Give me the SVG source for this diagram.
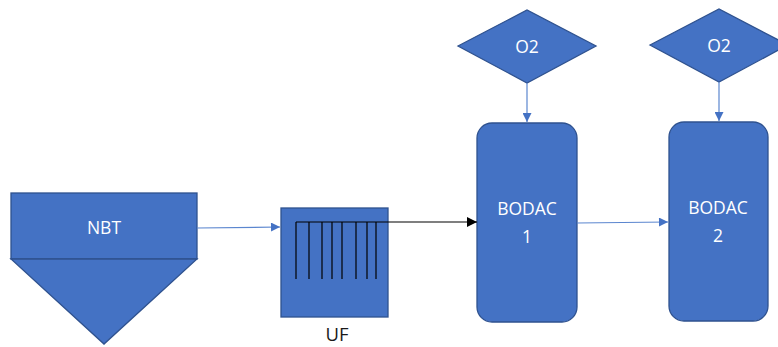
<svg xmlns="http://www.w3.org/2000/svg" width="778" height="347" viewBox="0 0 778 347">
<style>
.shape{fill:#4472C4;stroke:#2F528F;stroke-width:1.3}
.lbl{font-family:"Open Sans","Liberation Sans",sans-serif;font-size:17.5px;fill:#FFFFFF;text-anchor:middle}
.ext{font-family:"Open Sans","Liberation Sans",sans-serif;font-size:18.5px;fill:#1a1a1a;text-anchor:middle}
.conn{fill:none;stroke:#5B86CF;stroke-width:1.2}
.blk{fill:none;stroke:#000000;stroke-width:1.2}
</style>
<defs>
<marker id="ah" viewBox="0 0 10 10" refX="10" refY="5" markerWidth="10" markerHeight="9" markerUnits="userSpaceOnUse" orient="auto"><path d="M0,0 L10,5 L0,10 Z" fill="#4472C4"/></marker>
<marker id="ahk" viewBox="0 0 10 10" refX="10" refY="5" markerWidth="11" markerHeight="10" markerUnits="userSpaceOnUse" orient="auto"><path d="M0,0 L10,5 L0,10 Z" fill="#000000"/></marker>
</defs>
<g id="nbt">
<rect class="shape" x="11" y="193" width="186" height="66"/>
<polygon class="shape" points="11,259 197,259 104,344"/>
<text class="lbl" x="104" y="234">NBT</text>
</g>
<g id="uf">
<rect class="shape" x="281" y="208" width="107" height="109"/>
<g stroke="#000" stroke-width="1.2">
<line x1="296" y1="222" x2="296" y2="279"/>
<line x1="309" y1="222" x2="309" y2="279"/>
<line x1="322" y1="222" x2="322" y2="279"/>
<line x1="332" y1="222" x2="332" y2="279"/>
<line x1="342" y1="222" x2="342" y2="279"/>
<line x1="356" y1="222" x2="356" y2="279"/>
<line x1="367" y1="222" x2="367" y2="279"/>
<line x1="376" y1="222" x2="376" y2="279"/>
</g>
<text class="ext" x="337" y="341">UF</text>
</g>
<g id="o2a">
<polygon class="shape" points="458,46 527,10 596,46 527,83"/>
<text class="lbl" x="527" y="53">O2</text>
</g>
<g id="o2b">
<polygon class="shape" points="650,45 719,9 788,45 719,82"/>
<text class="lbl" x="719" y="52">O2</text>
</g>
<g id="bodac1">
<rect class="shape" x="477" y="123" width="100" height="199" rx="15"/>
<text class="lbl" x="527" y="215">BODAC</text>
<text class="lbl" x="527" y="243">1</text>
</g>
<g id="bodac2">
<rect class="shape" x="669" y="122" width="99" height="199" rx="15"/>
<text class="lbl" x="718" y="214">BODAC</text>
<text class="lbl" x="718" y="242">2</text>
</g>
<g id="connectors">
<path class="conn" d="M197,228 L280,227" marker-end="url(#ah)"/>
<path class="blk" d="M296,222 L477,222" marker-end="url(#ahk)"/>
<path class="conn" d="M527,83 L527,122" marker-end="url(#ah)"/>
<path class="conn" d="M719,82 L719,121" marker-end="url(#ah)"/>
<path class="conn" d="M577,223 L668,222" marker-end="url(#ah)"/>
</g>
</svg>
